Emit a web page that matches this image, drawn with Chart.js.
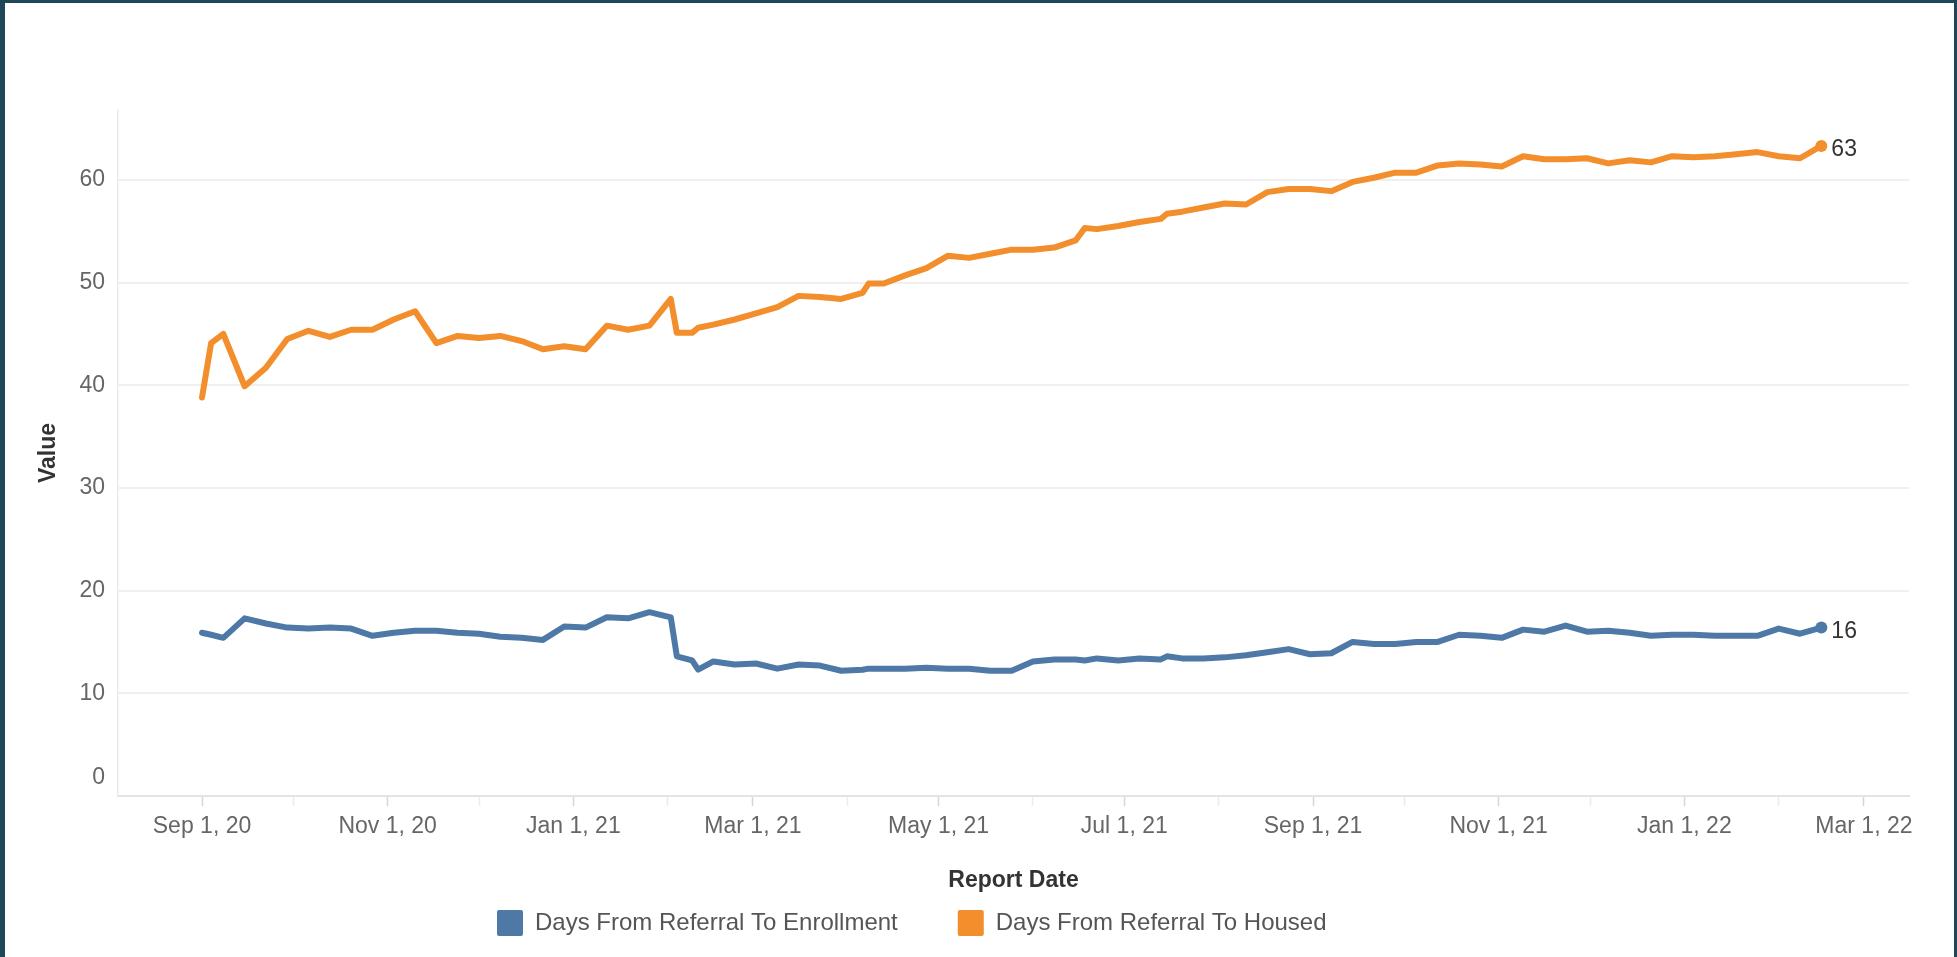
<!DOCTYPE html>
<html>
<head>
<meta charset="utf-8">
<script src="https://cdn.jsdelivr.net/npm/chart.js@4.4.1/dist/chart.umd.min.js"></script>
<style>
html,body{margin:0;padding:0;background:#20465a;width:1957px;height:957px;overflow:hidden}
#panel{position:absolute;left:5px;top:3px;width:1949px;height:954px;background:#ffffff}
canvas{display:block}
</style>
</head>
<body>
<div id="panel"><canvas id="c" width="1949" height="954"></canvas></div>
<script>
// ---------------- data ----------------
const reportDates = [
  '2020-09-01','2020-09-04','2020-09-08','2020-09-15','2020-09-22','2020-09-29',
  '2020-10-06','2020-10-13','2020-10-20','2020-10-27',
  '2020-11-03','2020-11-10','2020-11-17','2020-11-24',
  '2020-12-01','2020-12-08','2020-12-15','2020-12-22','2020-12-29',
  '2021-01-05','2021-01-12','2021-01-19','2021-01-26',
  '2021-02-02','2021-02-04','2021-02-09','2021-02-11','2021-02-16','2021-02-23',
  '2021-03-02','2021-03-09','2021-03-16','2021-03-23','2021-03-30',
  '2021-04-06','2021-04-08','2021-04-13','2021-04-20','2021-04-27',
  '2021-05-04','2021-05-11','2021-05-18','2021-05-25',
  '2021-06-01','2021-06-08','2021-06-15','2021-06-18','2021-06-22','2021-06-29',
  '2021-07-06','2021-07-13','2021-07-15','2021-07-20','2021-07-27',
  '2021-08-03','2021-08-10','2021-08-17','2021-08-24','2021-08-31',
  '2021-09-07','2021-09-14','2021-09-21','2021-09-28',
  '2021-10-05','2021-10-12','2021-10-19','2021-10-26',
  '2021-11-02','2021-11-09','2021-11-16','2021-11-23','2021-11-30',
  '2021-12-07','2021-12-14','2021-12-21','2021-12-28',
  '2022-01-04','2022-01-11','2022-01-18','2022-01-25',
  '2022-02-01','2022-02-08','2022-02-15'
];
const daysToEnrollment = [
  15.9, 15.7, 15.4, 17.3, 16.8, 16.4, 16.3, 16.4, 16.3, 15.6,
  15.9, 16.1, 16.1, 15.9, 15.8, 15.5, 15.4, 15.2, 16.5, 16.4,
  17.4, 17.3, 17.9, 17.4, 13.6, 13.2, 12.3, 13.1, 12.8, 12.9,
  12.4, 12.8, 12.7, 12.2, 12.3, 12.4, 12.4, 12.4, 12.5, 12.4,
  12.4, 12.2, 12.2, 13.1, 13.3, 13.3, 13.2, 13.4, 13.2, 13.4,
  13.3, 13.6, 13.4, 13.4, 13.5, 13.7, 14.0, 14.3, 13.8, 13.9,
  15.0, 14.8, 14.8, 15.0, 15.0, 15.7, 15.6, 15.4, 16.2, 16.0,
  16.6, 16.0, 16.1, 15.9, 15.6, 15.7, 15.7, 15.6, 15.6, 15.6,
  16.3, 15.8, 16.4
];
const daysToHoused = [
  38.8, 44.1, 45.0, 39.9, 41.7, 44.5, 45.3, 44.7, 45.4, 45.4,
  46.4, 47.2, 44.1, 44.8, 44.6, 44.8, 44.3, 43.5, 43.8, 43.5,
  45.8, 45.4, 45.8, 48.4, 45.1, 45.1, 45.6, 45.9, 46.4, 47.0,
  47.6, 48.7, 48.6, 48.4, 49.0, 49.9, 49.9, 50.7, 51.4, 52.6,
  52.4, 52.8, 53.2, 53.2, 53.4, 54.1, 55.3, 55.2, 55.5, 55.9,
  56.2, 56.7, 56.9, 57.3, 57.7, 57.6, 58.8, 59.1, 59.1, 58.9,
  59.8, 60.2, 60.7, 60.7, 61.4, 61.6, 61.5, 61.3, 62.3, 62.0,
  62.0, 62.1, 61.6, 61.9, 61.7, 62.3, 62.2, 62.3, 62.5, 62.7,
  62.3, 62.1, 63.3
];
const seriesNames = ['Days From Referral To Enrollment', 'Days From Referral To Housed'];
const seriesColors = ['#4e79a7', '#f28e2b'];
const yTickValues = [0, 10, 20, 30, 40, 50, 60];
const xMajorTickDates = ['2020-09-01','2020-11-01','2021-01-01','2021-03-01','2021-05-01',
  '2021-07-01','2021-09-01','2021-11-01','2022-01-01','2022-03-01'];
const xMajorTickLabels = ['Sep 1, 20','Nov 1, 20','Jan 1, 21','Mar 1, 21','May 1, 21',
  'Jul 1, 21','Sep 1, 21','Nov 1, 21','Jan 1, 22','Mar 1, 22'];
const xMinorTickDates = ['2020-10-01','2020-12-01','2021-02-01','2021-04-01','2021-06-01',
  '2021-08-01','2021-10-01','2021-12-01','2022-02-01'];
const xAxisStart = '2020-08-04';
const xAxisEnd = '2022-03-16';

// ---------------- helpers ----------------
const ORIGIN = Date.UTC(2020, 8, 1);
const toDay = s => (Date.parse(s + 'T00:00:00Z') - ORIGIN) / 86400000;
const FONT = '"Liberation Sans", Arial, Helvetica, sans-serif';

const majorDays = xMajorTickDates.map(toDay);
const minorDays = xMinorTickDates.map(toDay);
const allXTicks = majorDays.concat(minorDays).sort((a, b) => a - b);
const labelByDay = {};
majorDays.forEach((d, i) => { labelByDay[d] = xMajorTickLabels[i]; });

const mk = vals => reportDates.map((d, i) => ({ x: toDay(d), y: vals[i] }));

Chart.defaults.font.family = FONT;

// label at end of each line
const endLabels = {
  id: 'endLabels',
  afterDatasetsDraw(chart) {
    const ctx = chart.ctx;
    ctx.save();
    ctx.font = '23px ' + FONT;
    ctx.fillStyle = '#333333';
    ctx.textAlign = 'left';
    ctx.textBaseline = 'middle';
    chart.data.datasets.forEach((ds, i) => {
      const meta = chart.getDatasetMeta(i);
      const pt = meta.data[meta.data.length - 1];
      const v = ds.data[ds.data.length - 1].y;
      ctx.fillText(String(Math.round(v)), pt.x + 10, pt.y + 4);
    });
    ctx.restore();
  }
};

// place the legend row where the reference has it
const legendPlace = {
  id: 'legendPlace',
  afterLayout(chart) {
    const lg = chart.legend;
    if (!lg || !lg.lineWidths) return;
    const pad = lg.options.labels.padding;
    const natural = ((lg.left + pad) + (lg.right - lg.lineWidths[0])) / 2;
    const dx = 492 - natural;
    lg.left += dx; lg.right += dx;
    lg.top = 847;
    lg.bottom = chart.height;
    lg.height = lg.bottom - lg.top;
  }
};

const lastIdx = reportDates.length - 1;

new Chart(document.getElementById('c'), {
  type: 'line',
  data: {
    datasets: [
      {
        label: seriesNames[0],
        data: mk(daysToEnrollment),
        borderColor: seriesColors[0],
        backgroundColor: seriesColors[0],
        borderWidth: 6,
        borderJoinStyle: 'round',
        borderCapStyle: 'round',
        tension: 0,
        pointRadius: c => c.dataIndex === lastIdx ? 6 : 0,
        pointBackgroundColor: seriesColors[0],
        pointBorderWidth: 0,
        pointHoverRadius: 0
      },
      {
        label: seriesNames[1],
        data: mk(daysToHoused),
        borderColor: seriesColors[1],
        backgroundColor: seriesColors[1],
        borderWidth: 6,
        borderJoinStyle: 'round',
        borderCapStyle: 'round',
        tension: 0,
        pointRadius: c => c.dataIndex === lastIdx ? 6 : 0,
        pointBackgroundColor: seriesColors[1],
        pointBorderWidth: 0,
        pointHoverRadius: 0
      }
    ]
  },
  options: {
    responsive: false,
    animation: false,
    devicePixelRatio: 1,
    events: [],
    layout: { padding: { top: 107, right: 45, left: 0, bottom: 0 } },
    plugins: {
      tooltip: { enabled: false },
      legend: {
        position: 'bottom',
        maxHeight: 63,
        labels: {
          boxWidth: 26,
          boxHeight: 26,
          padding: 60,
          color: '#555555',
          font: { size: 24, family: FONT },
          useBorderRadius: true,
          borderRadius: 2,
          generateLabels: chart =>
            Chart.defaults.plugins.legend.labels.generateLabels(chart)
              .map(l => Object.assign(l, { lineWidth: 0 }))
        }
      }
    },
    scales: {
      x: {
        type: 'linear',
        bounds: 'data',
        min: toDay(xAxisStart) + 0.4,
        max: toDay(xAxisEnd) - 0.2,
        afterBuildTicks: s => { s.ticks = allXTicks.map(v => ({ value: v })); },
        afterFit: s => { s.height = 98; },
        ticks: {
          autoSkip: false,
          maxRotation: 0,
          minRotation: 0,
          padding: 7,
          color: '#666666',
          font: { size: 23, family: FONT },
          callback: v => labelByDay[v] || ''
        },
        grid: {
          drawOnChartArea: false,
          drawTicks: true,
          tickLength: 10,
          tickWidth: 1.5,
          tickColor: c => (c.tick && labelByDay[c.tick.value]) ? '#d6d6d6' : '#ebebeb'
        },
        border: { display: true, color: '#e4e4e4', width: 2 },
        title: {
          display: true,
          text: 'Report Date',
          color: '#333333',
          font: { size: 23, weight: 'bold', family: FONT },
          padding: { top: 27, bottom: 0 }
        }
      },
      y: {
        type: 'linear',
        min: 0,
        max: 66.8,
        afterBuildTicks: s => { s.ticks = yTickValues.map(v => ({ value: v })); },
        afterFit: s => { s.width = 113; },
        ticks: {
          padding: 13,
          color: '#666666',
          font: c => (c.tick && c.tick.value === 0)
            ? { size: 23, lineHeight: 1.6, family: FONT }
            : { size: 23, family: FONT },
          callback: v => v === 0 ? ['0', ''] : String(v)
        },
        grid: { drawTicks: false, color: '#f0f0f0', lineWidth: 2 },
        border: { display: true, color: '#ebebeb', width: 1.5 },
        title: {
          display: true,
          text: 'Value',
          color: '#333333',
          font: { size: 23, weight: 'bold', family: FONT },
          padding: { top: 30, bottom: 0 }
        }
      }
    }
  },
  plugins: [endLabels, legendPlace]
});
</script>
</body>
</html>
